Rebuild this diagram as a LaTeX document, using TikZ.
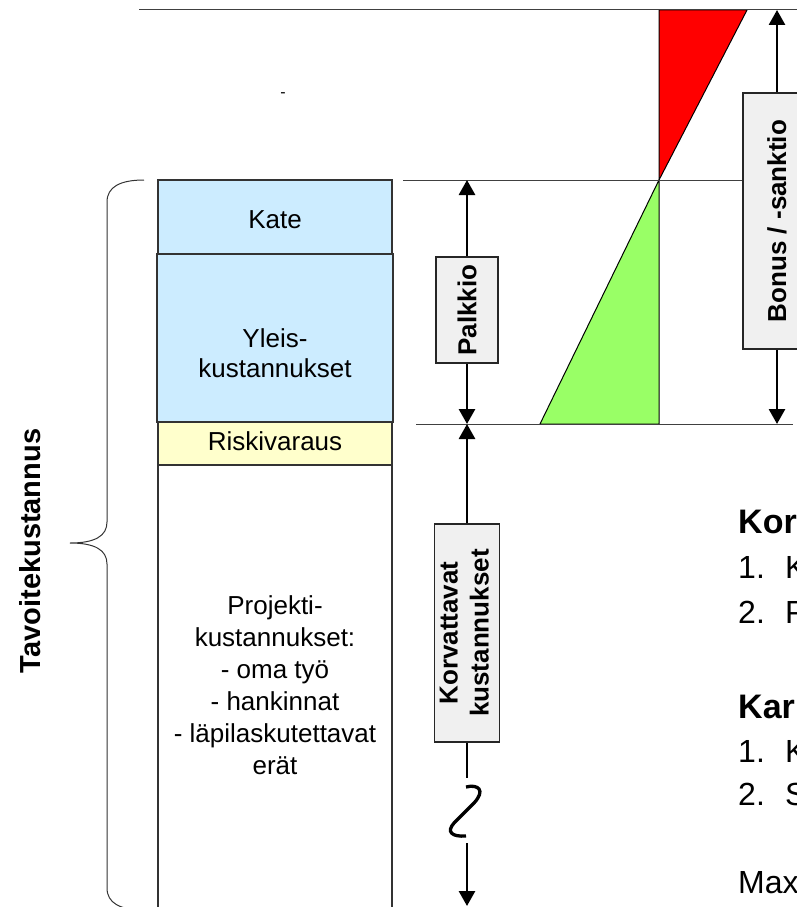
\documentclass[tikz,border=0pt]{standalone}
\usepackage{fontspec}
\setmainfont{Liberation Sans}
\usetikzlibrary{arrows.meta}
\definecolor{kblue}{HTML}{CCECFF}
\definecolor{kyellow}{HTML}{FFFFCC}
\definecolor{kgray}{HTML}{F0F0F0}
\definecolor{kgreen}{HTML}{99FF66}
\definecolor{kred}{HTML}{FF0000}
\begin{document}
\begin{tikzpicture}[x=1pt,y=-1pt,
  hline/.style={draw=black!75, line width=1pt},
  colbox/.style={draw=black!80, line width=1.2pt, inner sep=0pt},
  txt/.style={font=\fontsize{26}{30}\selectfont, inner sep=0pt},
  lblbox/.style={draw=black!85, line width=1.5pt, fill=kgray, inner sep=0pt},
  dimarrow/.style={line width=2.8pt, -{Triangle[width=16pt,length=15pt]}},
  stem/.style={line width=2.8pt},
  sidetxt/.style={font=\fontsize{32}{38}\selectfont, inner sep=0pt, anchor=base west},
  sidehead/.style={font=\bfseries\fontsize{34}{40}\selectfont, inner sep=0pt, anchor=base west},
  tri/.style={draw=black, line width=1pt},
]
\useasboundingbox (0,0) rectangle (797,907);
\clip (0,0) rectangle (797,907);

% triangles
\draw[tri, fill=kred] (659,10) -- (747,10) -- (659,180) -- cycle;
\draw[tri, fill=kgreen] (659,180) -- (659,424) -- (540,424) -- cycle;

% level lines
\coordinate (L0a) at (139,10);   \coordinate (L0b) at (797,10);
\coordinate (L1a) at (403,180);  \coordinate (L1b) at (743,180);
\coordinate (L2a) at (416,424);  \coordinate (L2b) at (793,424);
\draw[hline] (L0a) -- (L0b);
\draw[hline] (L1a) -- (L1b);
\draw[hline] (L2a) -- (L2b);

% cost column
\node[colbox, fill=kblue, minimum width=234pt, minimum height=74pt] (kate) at (275,217) {};
\node[colbox, fill=kblue, minimum width=236pt, minimum height=168pt] (yleis) at (275,338) {};
\node[colbox, fill=kyellow, minimum width=234pt, minimum height=43pt] (riski) at (275,443.5) {};
\draw[colbox] (158,925) -- (158,465) -- (392,465) -- (392,925);

\node[txt, anchor=base] (tkate) at (275,228) {Kate};
\node[txt, align=center] (tyleis) at (275,353.5) {Yleis-\\kustannukset};
\node[txt, anchor=base] (triski) at (275,450) {Riskivaraus};
\node[txt, align=center, font=\fontsize{26}{32}\selectfont] (tproj) at (275,685) {Projekti-\\kustannukset:\\- oma työ\\- hankinnat\\- läpilaskutettavat\\erät};

% brace
\draw[line width=1pt, black!80] (144,180) .. controls (120,180) and (107,187) .. (107,202) -- (107,522) .. controls (107,536) and (95,543) .. (70,543) .. controls (95,543) and (107,550) .. (107,564) -- (107,888) .. controls (107,903) and (120,910) .. (144,910);
\node[inner sep=0pt] (tavo) at (30,551) {\rotatebox{90}{\bfseries\fontsize{29}{34}\selectfont Tavoitekustannus}};

% small dash
\node[font=\fontsize{16}{19}\selectfont, inner sep=0pt, anchor=base] (dash) at (283,97) {-};

% Palkkio
\node[lblbox, minimum width=62pt, minimum height=106pt] (palk) at (467,310) {\rotatebox{90}{\bfseries\fontsize{26}{31}\selectfont Palkkio}};
\coordinate (p180) at (467,180);
\coordinate (p424) at (467,424);
\draw[dimarrow] (palk.north) -- (p180);
\draw[dimarrow] (palk.south) -- (p424);

% Korvattavat kustannukset
\node[lblbox, minimum width=65pt, minimum height=218pt] (korv) at (467,633) {\rotatebox{90}{\bfseries\fontsize{26}{31}\selectfont\begin{tabular}{@{}c@{}}Korvattavat\\kustannukset\end{tabular}}};
\coordinate (k424) at (467,424);
\coordinate (k778) at (467,778);
\coordinate (k843) at (467,843);
\coordinate (k906) at (467,906);
\draw[dimarrow] (korv.north) -- (k424);
\draw[stem] (korv.south) -- (k778);
\draw[line width=3.3pt] (466,787) .. controls (478,784) and (486,790) .. (474,803) -- (454,823) .. controls (446,832) and (452,837) .. (466,836);
\draw[dimarrow] (k843) -- (k906);

% Bonus / -sanktio
\node[lblbox, minimum width=68pt, minimum height=256pt] (bonus) at (777,221) {\rotatebox{90}{\bfseries\fontsize{26}{31}\selectfont Bonus / -sanktio}};
\coordinate (b10) at (777,10);
\coordinate (b424) at (777,424);
\draw[dimarrow] (bonus.north) -- (b10);
\draw[dimarrow] (bonus.south) -- (b424);

% right-hand text (cut by the edge)
\node[sidehead] (h1) at (738,533) {Kor};
\node[sidetxt] (h1a) at (738,578) {\makebox[47pt][l]{1.}K};
\node[sidetxt] (h1b) at (738,623) {\makebox[47pt][l]{2.}P};
\node[sidehead] (h2) at (738,718) {Kar};
\node[sidetxt] (h2a) at (738,762) {\makebox[47pt][l]{1.}K};
\node[sidetxt] (h2b) at (738,805) {\makebox[47pt][l]{2.}S};
\node[sidetxt] (h3) at (738,893) {Max};
\end{tikzpicture}
\end{document}
